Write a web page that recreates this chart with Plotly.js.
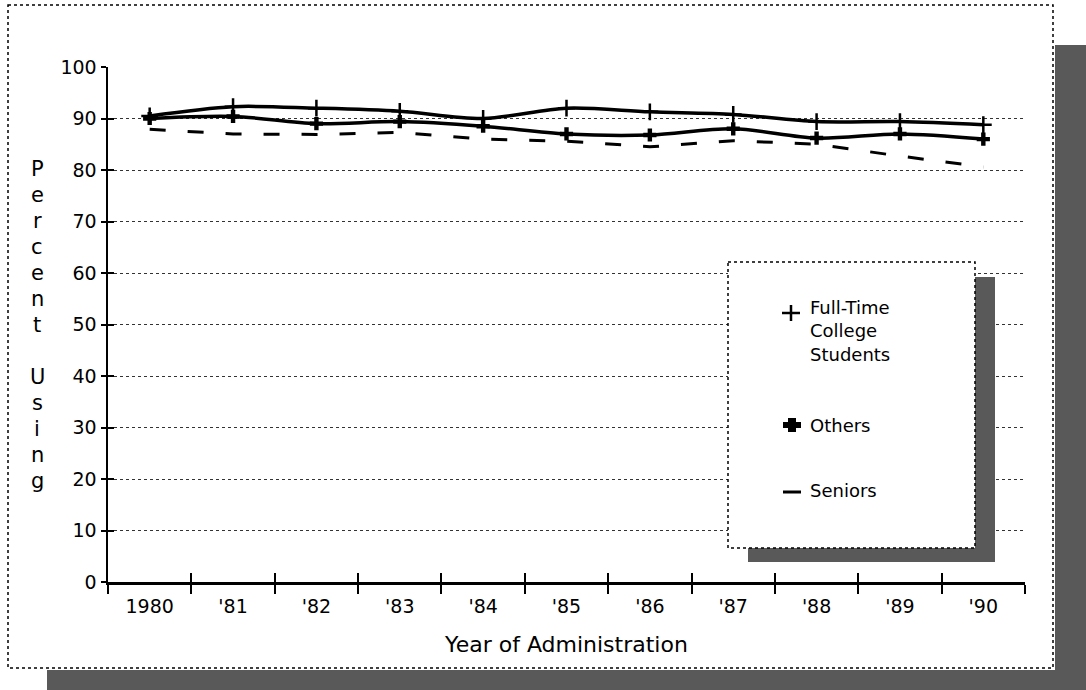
<!DOCTYPE html>
<html>
<head>
<meta charset="utf-8">
<script src="https://cdn.plot.ly/plotly-3.0.1.min.js"></script>
<style>
html,body{margin:0;padding:0;background:#fff;}
#chart{width:1086px;height:690px;}
</style>
</head>
<body>
<div id="chart"></div>
<script>
// ---- data ----
const years = ['1980', "'81", "'82", "'83", "'84", "'85", "'86", "'87", "'88", "'89", "'90"];
const fullTime = [90.5, 92.3, 92.0, 91.4, 90.0, 92.0, 91.3, 90.8, 89.4, 89.4, 88.8];
const others   = [90.0, 90.4, 89.0, 89.4, 88.5, 87.0, 86.8, 88.0, 86.2, 87.0, 86.0];
const seniors  = [87.9, 87.0, 86.9, 87.3, 86.0, 85.6, 84.5, 85.7, 85.0, 82.7, 80.6];
const seriesNames = ['Full-Time College Students', 'Others', 'Seniors'];
const legendLabels = ['Full-Time<br>College<br>Students', 'Others', 'Seniors'];
const yTitleLetters = ['P','e','r','c','e','n','t','','U','s','i','n','g'];
const xTitle = 'Year of Administration';

// ---- layout geometry (pixels) ----
const W = 1086, H = 690;
const L = 108, R = 1025, T = 67, B = 582;
const px = x => (x - L) / (R - L);
const py = y => (B - y) / (B - T);
const FONT = 'DejaVu Sans, Verdana, sans-serif';

const traces = [
  { x: years, y: fullTime, name: seriesNames[0], type: 'scatter', mode: 'lines+markers',
    line: {color: '#000', width: 3.5, shape: 'spline', smoothing: 0.9},
    marker: {symbol: 'cross-thin', size: 12, line: {color: '#000', width: 2.5}} },
  { x: years, y: others, name: seriesNames[1], type: 'scatter', mode: 'lines+markers',
    line: {color: '#000', width: 3.5, shape: 'spline', smoothing: 0.9},
    marker: {symbol: 'cross', size: 11, color: '#000'} },
  { x: years, y: seniors, name: seriesNames[2], type: 'scatter', mode: 'lines',
    line: {color: '#000', width: 3, dash: '16px,22px'} },
  { x: [], y: [], xaxis: 'x2', yaxis: 'y2', type: 'scatter', showlegend: false, hoverinfo: 'skip' }
];

const shapes = [];
const GRAY = '#595959';
// page frame shadow
shapes.push({type:'rect', xref:'paper', yref:'paper', x0:px(1055), x1:px(1086), y0:py(45), y1:py(690), fillcolor:GRAY, line:{width:0}, layer:'below'});
shapes.push({type:'rect', xref:'paper', yref:'paper', x0:px(47), x1:px(1086), y0:py(670), y1:py(690), fillcolor:GRAY, line:{width:0}, layer:'below'});
// page frame (dotted)
shapes.push({type:'rect', xref:'paper', yref:'paper', x0:px(8), x1:px(1053), y0:py(5), y1:py(668), line:{color:'#000', width:1.5, dash:'dot'}, layer:'below'});
// legend box shadow
shapes.push({type:'rect', xref:'paper', yref:'paper', x0:px(975), x1:px(995), y0:py(277), y1:py(562), fillcolor:GRAY, line:{width:0}, layer:'above'});
shapes.push({type:'rect', xref:'paper', yref:'paper', x0:px(748), x1:px(995), y0:py(548), y1:py(562), fillcolor:GRAY, line:{width:0}, layer:'above'});
// legend box
shapes.push({type:'rect', xref:'paper', yref:'paper', x0:px(728), x1:px(975), y0:py(262), y1:py(548), fillcolor:'#fff', line:{color:'#000', width:1.5, dash:'dot'}, layer:'above'});
// legend symbols
shapes.push({type:'line', xref:'paper', yref:'paper', x0:px(782), x1:px(800), y0:py(313), y1:py(313), line:{color:'#000', width:2.5}, layer:'above'});
shapes.push({type:'line', xref:'paper', yref:'paper', x0:px(791), x1:px(791), y0:py(305), y1:py(321), line:{color:'#000', width:2.5}, layer:'above'});
shapes.push({type:'rect', xref:'paper', yref:'paper', x0:px(783), x1:px(801), y0:py(422), y1:py(428), fillcolor:'#000', line:{width:0}, layer:'above'});
shapes.push({type:'rect', xref:'paper', yref:'paper', x0:px(788), x1:px(796), y0:py(418), y1:py(432), fillcolor:'#000', line:{width:0}, layer:'above'});
shapes.push({type:'line', xref:'paper', yref:'paper', x0:px(783), x1:px(801), y0:py(492), y1:py(492), line:{color:'#000', width:3}, layer:'above'});

const annotations = [];
// legend text
const legendY = [331, 425, 490];
legendLabels.forEach((t, i) => annotations.push({
  text: t, xref:'paper', yref:'paper', x:px(808), y:py(legendY[i]), xanchor:'left', yanchor:'middle',
  align:'left', showarrow:false, font:{family:FONT, size:18, color:'#000'}
}));
// vertical y-axis title, one upright letter per line
yTitleLetters.forEach((ch, i) => { if (ch) annotations.push({
  text: ch, xref:'paper', yref:'paper', x:px(37), y:py(169 + 26*i), xanchor:'center', yanchor:'middle',
  showarrow:false, font:{family:FONT, size:21, color:'#000'}
}); });

const layout = {
  width: W, height: H,
  margin: {l: L, r: W - R, t: T, b: H - B, pad: 0},
  paper_bgcolor: '#fff', plot_bgcolor: 'rgba(0,0,0,0)',
  showlegend: false,
  font: {family: FONT, color: '#000', size: 19},
  xaxis: {
    type: 'category', range: [-0.5, 10.5], showline: true, linecolor: '#000', linewidth: 3,
    ticks: 'outside', tickson: 'boundaries', ticklen: 9, tickwidth: 2, tickcolor: '#000',
    showgrid: false, zeroline: false, tickfont: {family: FONT, size: 19, color: '#000'},
    ticklabelstandoff: 5,
    title: {text: xTitle, font: {family: FONT, size: 22, color: '#000'}, standoff: 21},
    fixedrange: true
  },
  yaxis: {
    range: [0, 100], dtick: 10, tick0: 0, showline: true, linecolor: '#000', linewidth: 2.5,
    ticks: 'outside', ticklen: 5, tickwidth: 2, tickcolor: '#000',
    showgrid: true, gridcolor: '#333', gridwidth: 1, griddash: 'dot', zeroline: false,
    tickfont: {family: FONT, size: 19, color: '#000'}, ticklabelstandoff: 0, fixedrange: true
  },
  xaxis2: {
    overlaying: 'x', anchor: 'y2', range: [-0.5, 10.5], tick0: -0.5, dtick: 1,
    ticks: 'inside', ticklen: 9, tickwidth: 2, tickcolor: '#000', side: 'bottom',
    showticklabels: false, showgrid: false, zeroline: false, showline: false, fixedrange: true
  },
  yaxis2: {
    overlaying: 'y', anchor: 'x2', range: [0, 100], tick0: 0, dtick: 10,
    ticks: 'inside', ticklen: 6, tickwidth: 2, tickcolor: '#000', side: 'left',
    showticklabels: false, showgrid: false, zeroline: false, showline: false, fixedrange: true
  },
  shapes: shapes,
  annotations: annotations
};

Plotly.newPlot('chart', traces, layout, {displayModeBar: false, staticPlot: true});
</script>
</body>
</html>
